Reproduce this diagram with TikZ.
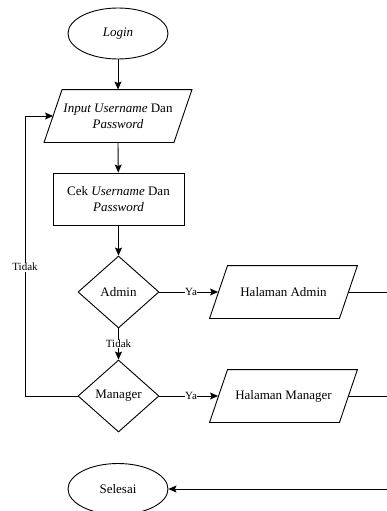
\documentclass[tikz,border=0pt]{standalone}
\usepackage{fontspec}
\setmainfont{Liberation Serif}
\usetikzlibrary{shapes.geometric,arrows.meta}

\tikzset{
  base/.style={font=\fontsize{13}{16}\selectfont, align=center, inner sep=1pt, line width=0.9pt},
  term/.style={base, draw, ellipse, minimum width=100pt, minimum height=51pt},
  proc/.style={base, draw, rectangle, minimum width=131pt, minimum height=52pt},
  iobox/.style={base, rectangle, minimum width=129pt, minimum height=52pt},
  decide/.style={base, draw, diamond, minimum width=81pt, minimum height=72pt},
  lbl/.style={font=\fontsize{11}{13}\selectfont, fill=white, inner sep=0.5pt},
  arr/.style={line width=0.9pt, -{Stealth[length=8pt,width=7pt,inset=1.5pt]}},
  ln/.style={line width=0.9pt}
}

\begin{document}
\begin{tikzpicture}[x=1pt,y=-1pt]
  \useasboundingbox (0,0) rectangle (387,511);
  \clip (0,0) rectangle (387,511);

  % main column
  \node[term]   (login) at (118,33.5)  {\textit{Login}};
  \node[iobox]  (inp)   at (118,116)   {\textit{Input Username} Dan\\\textit{Password}};
  \node[proc]   (cek)   at (118.5,199) {Cek \textit{Username} Dan\\\textit{Password}};
  \node[decide] (adm)   at (118.5,292) {Admin};
  \node[decide] (man)   at (118.5,396) {Manager};
  \node[term]   (sel)   at (118,489)   {Selesai};

  % output pages
  \node[iobox] (hadm) at (283.5,292) {Halaman Admin};
  \node[iobox] (hman) at (283.5,396) {Halaman Manager};

  % slanted outlines of the input/output boxes
  \foreach \n in {inp,hadm,hman}
    \draw[ln] ([xshift=9pt]\n.north west) -- ([xshift=9pt]\n.north east)
      -- ([xshift=-9pt]\n.south east) -- ([xshift=-9pt]\n.south west) -- cycle;

  % helper points
  \coordinate (lb) at (25,396);
  \coordinate (lt) at (25,116);
  \coordinate (ra) at (390,292);
  \coordinate (rm) at (390,396);
  \coordinate (rs) at (390,489);

  % flow
  \draw[arr] (login) -- (inp);
  \draw[arr] (inp.south) -- (cek);
  \draw[arr] (cek) -- (adm);
  \draw[arr] (adm) -- node[lbl]{Tidak} (man);
  \draw[arr] (adm) -- node[lbl, pos=0.54]{Ya} ([xshift=-0.5pt]hadm.west);
  \draw[arr] (man) -- node[lbl, pos=0.54]{Ya} ([xshift=-0.5pt]hman.west);
  \draw[arr] (man.west) -- (lb) -- node[lbl, pos=0.46]{Tidak} (lt) -- (inp.west);
  \draw[ln] (hadm.east) -- (ra);
  \draw[ln] (hman.east) -- (rm);
  \draw[arr] (rs) -- (sel);
\end{tikzpicture}
\end{document}
